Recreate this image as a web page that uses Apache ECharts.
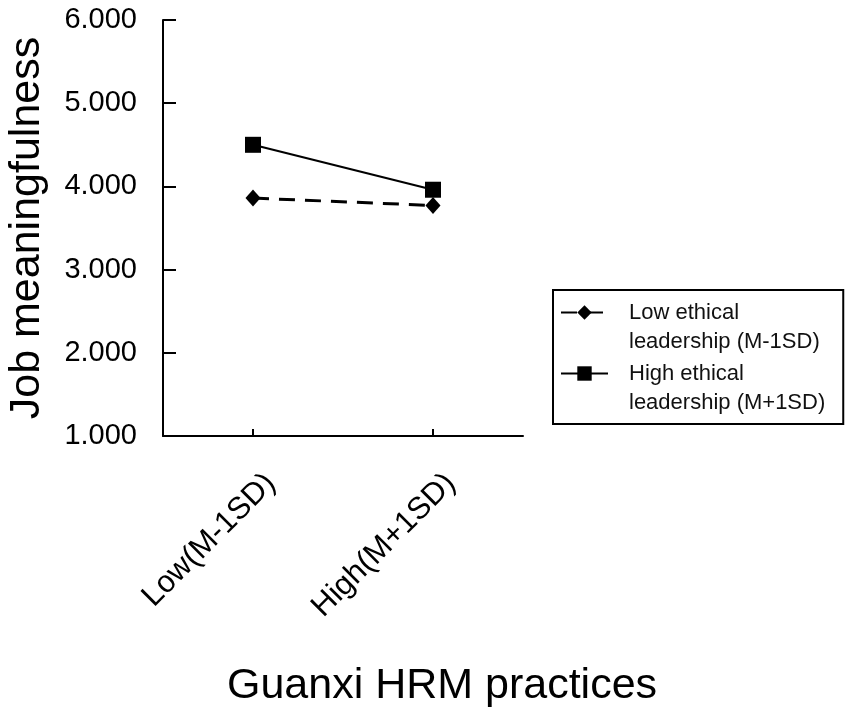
<!DOCTYPE html>
<html>
<head>
<meta charset="utf-8">
<script src="https://cdn.jsdelivr.net/npm/echarts@6/dist/echarts.min.js"></script>
<style>html,body{margin:0;padding:0;background:#fff;}#c{width:851px;height:711px;}</style>
</head>
<body>
<div id="c"></div>
<script>
var categories = ['Low(M-1SD)', 'High(M+1SD)'];
var lowEthical = [3.86, 3.77];
var highEthical = [4.50, 3.96];
var seriesNames = ['Low ethical\nleadership (M-1SD)', 'High ethical\nleadership (M+1SD)'];
var yMin = 1, yMax = 6, yStep = 1;

var font = 'Liberation Sans, Arial, Helvetica, sans-serif';
var chart = echarts.init(document.getElementById('c'), null, {renderer: 'canvas'});
chart.setOption({
  animation: false,
  backgroundColor: '#fff',
  grid: {left: 163, right: 328, top: 20, bottom: 275, containLabel: false, outerBoundsMode: 'none'},
  legend: {
    orient: 'vertical',
    left: 553, top: 290,
    padding: [-21, 18, 7, 7],
    itemGap: -26,
    itemWidth: 47, itemHeight: 18,
    borderColor: '#000', borderWidth: 2, borderRadius: 0,
    data: seriesNames,
    formatter: function (n) { return '\n' + n; },
    textStyle: {fontFamily: font, fontSize: 22, color: '#111', lineHeight: 29, padding: [0, 0, 0, 16]}
  },
  xAxis: {
    type: 'category',
    data: categories,
    boundaryGap: true,
    name: 'Guanxi HRM practices',
    nameLocation: 'middle',
    nameGap: 229,
    nameTextStyle: {fontFamily: font, fontSize: 43, color: '#000', padding: [0, 0, 0, 198]},
    axisLine: {lineStyle: {color: '#000', width: 2}},
    axisTick: {show: true, inside: true, length: 7, alignWithLabel: true, lineStyle: {color: '#000', width: 2}},
    axisLabel: {rotate: 45, margin: 25, verticalAlign: 'top', lineHeight: 50, fontFamily: font, fontSize: 31, color: '#000', interval: 0},
    splitLine: {show: false}
  },
  yAxis: {
    type: 'value',
    min: yMin, max: yMax, interval: yStep,
    name: 'Job meaningfulness',
    nameLocation: 'middle',
    nameGap: 114,
    nameRotate: 90,
    nameTextStyle: {fontFamily: font, fontSize: 43, color: '#000'},
    axisLine: {show: true, lineStyle: {color: '#000', width: 2}},
    axisTick: {show: true, inside: true, length: 13, lineStyle: {color: '#000', width: 2}},
    axisLabel: {margin: 26, fontFamily: font, fontSize: 29, color: '#000', formatter: function (v) { return v.toFixed(3); }},
    splitLine: {show: false}
  },
  series: [
    {
      name: seriesNames[0],
      type: 'line',
      data: lowEthical,
      symbol: 'diamond',
      symbolSize: [15, 17],
      lineStyle: {color: '#000', width: 3, type: [16, 10]},
      itemStyle: {color: '#000'}
    },
    {
      name: seriesNames[1],
      type: 'line',
      data: highEthical,
      symbol: 'rect',
      symbolSize: 16,
      lineStyle: {color: '#000', width: 2, type: 'solid'},
      itemStyle: {color: '#000'}
    }
  ]
});
</script>
</body>
</html>
